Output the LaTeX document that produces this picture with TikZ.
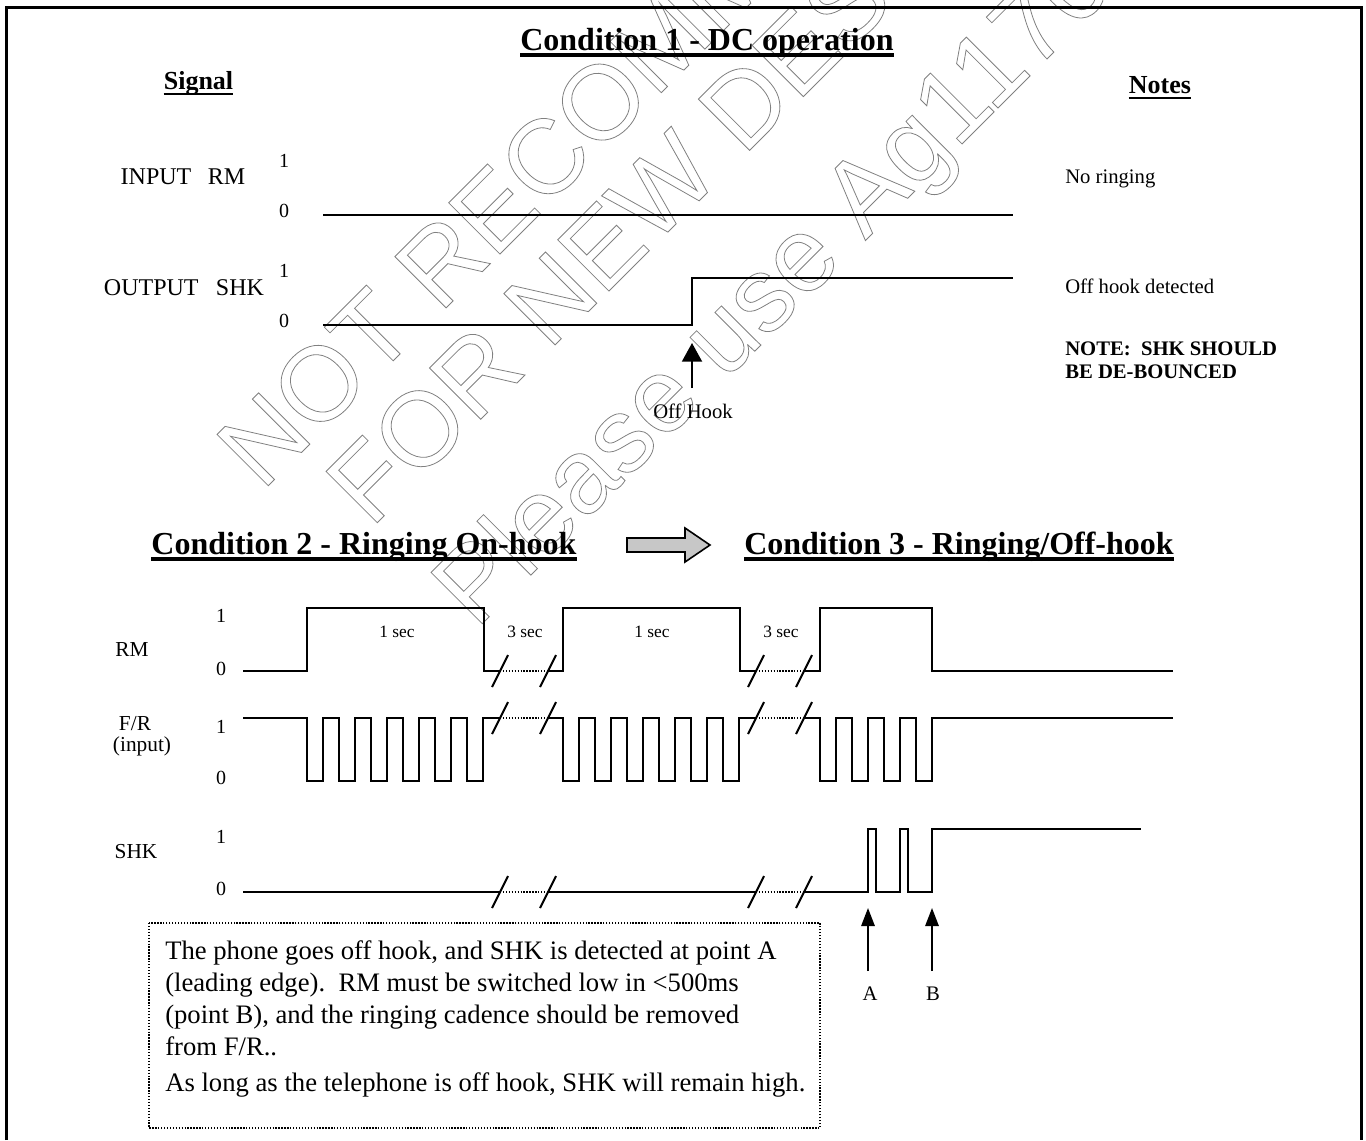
\documentclass[tikz,border=0pt]{standalone}
\usepackage{fontspec}
\setmainfont{Liberation Serif}
\newfontfamily\wmfont{Liberation Sans}
\usetikzlibrary{arrows.meta, calc}

\tikzset{
  wave/.style={line width=1.5pt, line join=miter},
  gapline/.style={line width=1pt, dash pattern=on 1pt off 1.2pt},
  uline/.style={line width=3pt},
  hline/.style={line width=2pt},
  brk/.pic={\draw[line width=1.5pt] (-8,-16) -- (8,16);},
  ttl/.style={inner sep=0pt, anchor=base, font=\fontsize{24}{29}\selectfont\bfseries},
  hdr/.style={inner sep=0pt, anchor=base, font=\fontsize{19.5}{23}\selectfont\bfseries},
  sig/.style={inner sep=0pt, anchor=base, font=\fontsize{18}{22}\selectfont},
  sigb/.style={inner sep=0pt, anchor=base, font=\fontsize{16}{19}\selectfont},
  lvl/.style={inner sep=0pt, anchor=base, font=\fontsize{15}{18}\selectfont},
  note/.style={inner sep=0pt, anchor=base west, font=\fontsize{15.5}{19}\selectfont},
  sml/.style={inner sep=0pt, anchor=base, font=\fontsize{13}{16}\selectfont},
  txt/.style={inner sep=0pt, anchor=base west, font=\fontsize{20}{24}\selectfont},
  bigup/.style={line width=1.5pt, -{Triangle[length=14pt, width=15pt]}},
  up/.style={line width=1.5pt, -{Triangle[length=13.5pt, width=10pt]}},
  wmark/.style={inner sep=0pt, anchor=base west, text=black!50, rotate=45,
    font=\wmfont\fontsize{79}{79}\selectfont}
}

\begin{document}
\begin{tikzpicture}[x=0.75pt,y=0.75pt,yscale=-1,xscale=1]
\useasboundingbox (0,0) rectangle (1366,1140);

% watermark
\node[wmark] (wm1) at (262,492) {\special{pdf:literal direct 1 Tr 0.6 w}NOT RECOMMENDED};
\node[wmark] (wm2) at (371,529) {\special{pdf:literal direct 1 Tr 0.6 w}FOR NEW DESIGN};
\node[wmark] (wm3) at (476,630) {\special{pdf:literal direct 1 Tr 0.6 w}Please use Ag1170};

% frame
\draw[line width=2.25pt] (6.5,1140) -- (6.5,7) -- (1361,7) -- (1361,1140);

% Condition 1
\node[ttl] (t1) at (707,50) {Condition 1 - DC operation};
\draw[uline] ($(t1.base west)+(0,4.5)$) -- ($(t1.base east)+(0,4.5)$);
\node[hdr] (hsig) at (198.5,89) {Signal};
\draw[hline] ($(hsig.base west)+(0,5)$) -- ($(hsig.base east)+(0,5)$);
\node[hdr] (hnot) at (1160,93) {Notes};
\draw[hline] ($(hnot.base west)+(0,5)$) -- ($(hnot.base east)+(0,5)$);

% Text Node
\node[sig] (sin) at (183,184) {INPUT\hspace{12.4pt}RM};
\node[sig] (sout) at (184,295) {OUTPUT\hspace{13pt}SHK};
\node[lvl] (in1) at (284,167) {1};
\node[lvl] (in0) at (284,217) {0};
\node[lvl] (out1) at (284,277) {1};
\node[lvl] (out0) at (284,327) {0};

%Straight Lines
\draw[wave] (323,215) -- (1013,215);
\draw[wave] (323,325) -- (692,325) -- (692,278) -- (1013,278);

\node[note, anchor=base] (lofh) at (693,418) {Off Hook};
\coordinate (ofhtail) at (692,388);
\coordinate (ofhtip) at (692,343);
\draw[bigup] (ofhtail) -- (ofhtip);

% notes
\node[note] (nring) at (1065,183) {No ringing};
\node[note] (ndet) at (1065,293) {Off hook detected};
\node[note, font=\fontsize{15.5}{19}\selectfont\bfseries] (nwarn) at (1065,355) {NOTE:\ \ SHK SHOULD};
\node[note, font=\fontsize{15.5}{19}\selectfont\bfseries] (nwarnb) at (1065,378) {BE DE-BOUNCED};

% Condition 2 and 3
\node[ttl] (t2) at (364,554) {Condition 2 - Ringing On-hook};
\draw[uline] ($(t2.base west)+(0,5)$) -- ($(t2.base east)+(0,5)$);
\node[ttl] (t3) at (959,554) {Condition 3 - Ringing/Off-hook};
\draw[uline] ($(t3.base west)+(0,5)$) -- ($(t3.base east)+(0,5)$);
\filldraw[fill=black!22, line width=1.2pt, line join=miter] (627,538) -- (685,538) -- (685,528) -- (710,545) -- (685,562) -- (685,552) -- (627,552) -- cycle;

% Text Node
\node[sigb] (lrm) at (132,656) {RM};
\node[sigb] (lfr) at (135,730) {F/R};
\node[sigb] (linp) at (142,751) {(input)};
\node[sigb] (lshk) at (136,858) {SHK};
\node[lvl] (rm1) at (221,622) {1};
\node[lvl] (rm0) at (221,675) {0};
\node[lvl] (fr1) at (221,733) {1};
\node[lvl] (fr0) at (221,784) {0};
\node[lvl] (sh1) at (221,843) {1};
\node[lvl] (sh0) at (221,895) {0};

\node[sml] (on1) at (397,637) {1 sec};
\node[sml] (off1) at (525,637) {3 sec};
\node[sml] (on2) at (652,637) {1 sec};
\node[sml] (off2) at (781,637) {3 sec};

% RM
\draw[wave] (243,671) -- (307,671) -- (307,608) -- (484,608) -- (484,671) -- (500,671);
\draw[gapline] (500,671) -- (548,671);
\draw[wave] (548,671) -- (563,671) -- (563,608) -- (740,608) -- (740,671) -- (756,671);
\draw[gapline] (756,671) -- (804,671);
\draw[wave] (804,671) -- (820,671) -- (820,608) -- (932,608) -- (932,671) -- (1173,671);

% F/R
\draw[wave] (243,718) \foreach \k in {0,...,5} { -- ({307+32*\k},718) -- ({307+32*\k},781) -- ({323+32*\k},781) -- ({323+32*\k},718) } -- (500,718);
\draw[gapline] (500,718) -- (548,718);
\draw[wave] (548,718) \foreach \k in {0,...,5} { -- ({563+32*\k},718) -- ({563+32*\k},781) -- ({579+32*\k},781) -- ({579+32*\k},718) } -- (756,718);
\draw[gapline] (756,718) -- (804,718);
\draw[wave] (804,718) \foreach \k in {0,...,3} { -- ({820+32*\k},718) -- ({820+32*\k},781) -- ({836+32*\k},781) -- ({836+32*\k},718) } -- (1173,718);

% SHK
\draw[wave] (243,892) -- (500,892);
\draw[gapline] (500,892) -- (548,892);
\draw[wave] (548,892) -- (756,892);
\draw[gapline] (756,892) -- (804,892);
\draw[wave] (804,892) -- (868,892) -- (868,829) -- (876,829) -- (876,892) -- (900,892) -- (900,829) -- (908,829) -- (908,892) -- (932,892) -- (932,829) -- (1141,829);

\foreach \bx in {500,548,756,804} {
  \pic at (\bx,671) {brk};
  \pic at (\bx,718) {brk};
  \pic at (\bx,892) {brk};
}

% A and B
\node[note, anchor=base] (lblA) at (870,1000) {A};
\node[note, anchor=base] (lblB) at (933,1000) {B};
\coordinate (tailA) at (868,971);
\coordinate (tipA) at (868,908);
\coordinate (tailB) at (932,971);
\coordinate (tipB) at (932,908);
\draw[up] (tailA) -- (tipA);
\draw[up] (tailB) -- (tipB);

% text box
\draw[line width=1pt, dash pattern=on 1pt off 1.2pt] (149,923) rectangle (820,1128);
\node[txt] (tx1) at (165,959) {The phone goes off hook, and SHK is detected at point A};
\node[txt] (tx2) at (165,991) {(leading edge).\ \ RM must be switched low in <500ms};
\node[txt] (tx3) at (165,1023) {(point B), and the ringing cadence should be removed};
\node[txt] (tx4) at (165,1055) {from F/R..};
\node[txt] (tx5) at (165,1091) {As long as the telephone is off hook, SHK will remain high.};

\end{tikzpicture}
\end{document}
